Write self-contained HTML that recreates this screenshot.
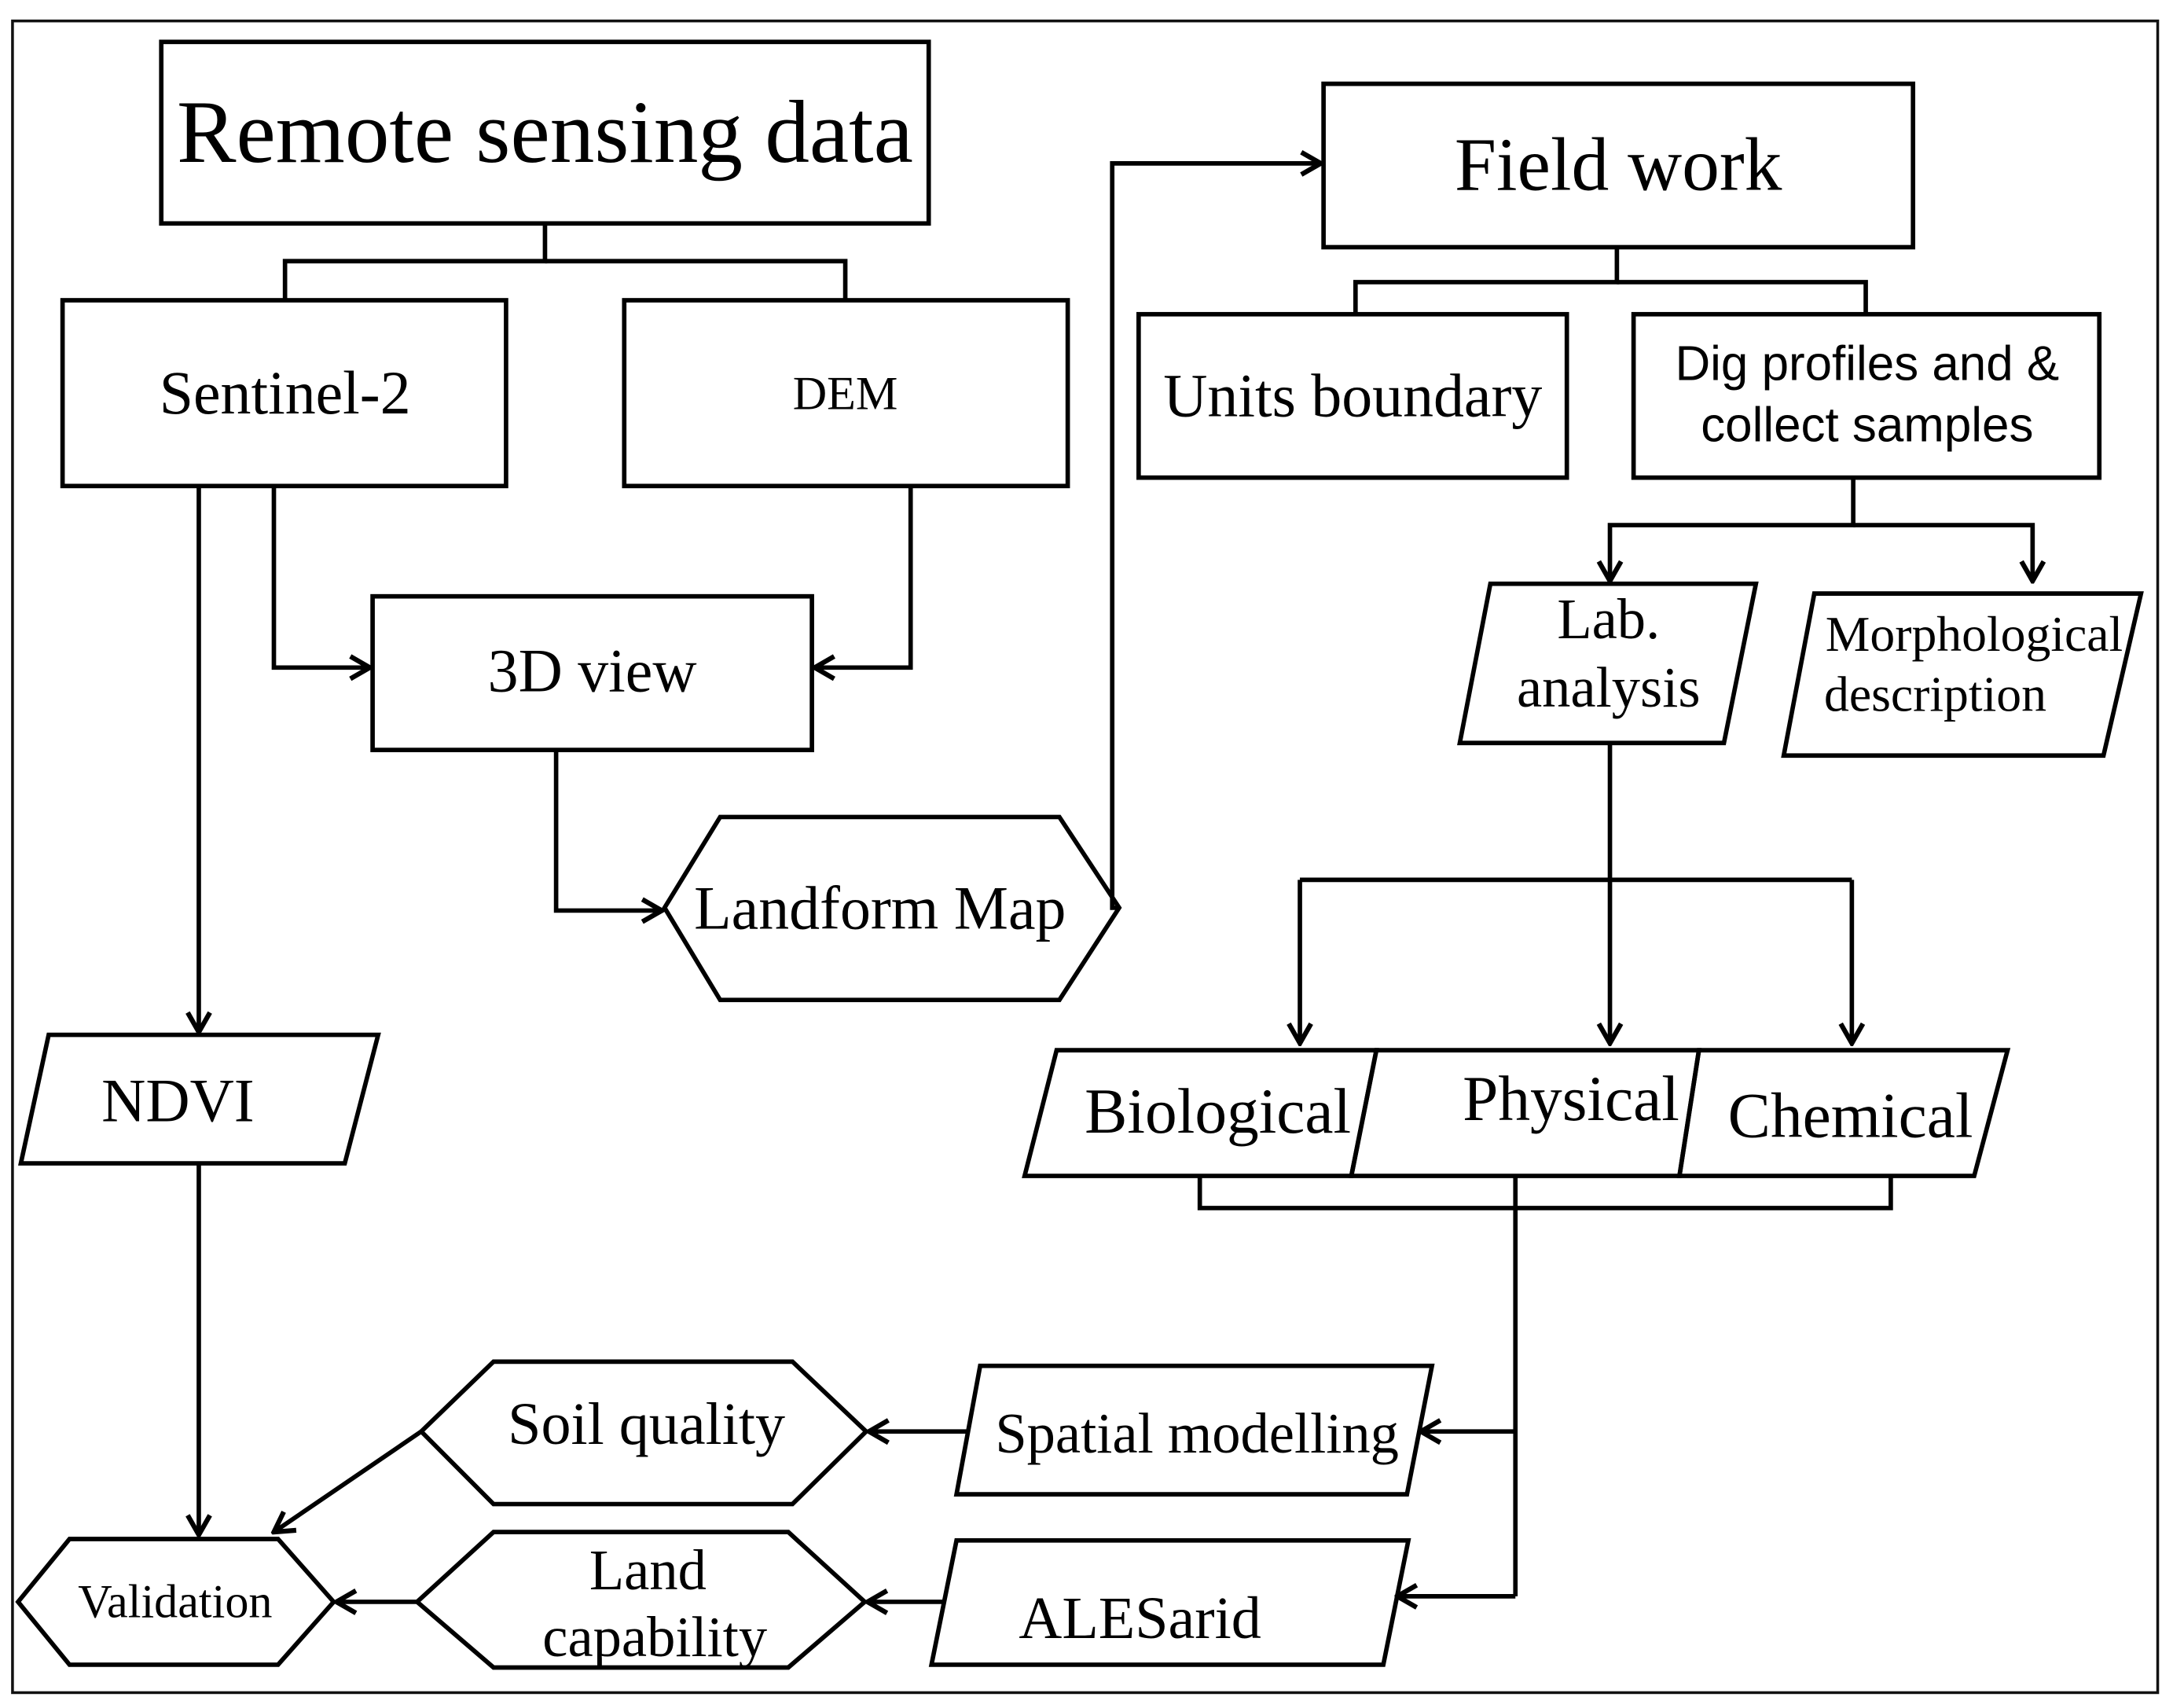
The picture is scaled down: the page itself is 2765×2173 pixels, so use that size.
<!DOCTYPE html>
<html><head><meta charset="utf-8"><style>
html,body{margin:0;padding:0;background:#fff;}
svg{display:block;}
text{font-family:"Liberation Serif",serif;fill:#000;}
.s{font-family:"Liberation Sans",sans-serif;}
</style></head><body>
<svg width="2765" height="2173" viewBox="0 0 1563 1223" preserveAspectRatio="none" xmlns="http://www.w3.org/2000/svg">
<defs>
<marker id="b" viewBox="0 0 20 20" refX="18" refY="10" markerWidth="20" markerHeight="20" orient="auto" markerUnits="userSpaceOnUse">
<polyline points="4,2 18,10 4,18" fill="none" stroke="#000" stroke-width="3.5"/>
</marker>
</defs>
<rect x="9" y="15" width="1543" height="1197" fill="none" stroke="#111" stroke-width="2"/>
<g fill="none" stroke="#000" stroke-width="3.2">
<rect x="116" y="30" width="552" height="130"/>
<polyline points="392,160 392,187 205,187 205,215"/>
<polyline points="392,187 608,187 608,215"/>
<rect x="45" y="215" width="319" height="133"/>
<rect x="449" y="215" width="319" height="133"/>
<rect x="268" y="427" width="316" height="110"/>
<polyline points="197,348 197,478 266,478" marker-end="url(#b)"/>
<polyline points="655,348 655,478 586,478" marker-end="url(#b)"/>
<polyline points="143,348 143,739" marker-end="url(#b)"/>
<polygon points="35,741 272,741 248,833 15,833"/>
<polyline points="400,537 400,652 476,652" marker-end="url(#b)"/>
<polygon points="478,650 518,585 762,585 805,650 762,716 518,716"/>
<polyline points="805,650 800,650 800,117 950,117" marker-end="url(#b)"/>
<rect x="952" y="60" width="424" height="117"/>
<polyline points="1163,177 1163,202 975,202 975,225"/>
<polyline points="1163,202 1342,202 1342,225"/>
<rect x="819" y="225" width="308" height="117"/>
<rect x="1175" y="225" width="335" height="117"/>
<polyline points="1333,342 1333,376 1158,376 1158,416" marker-end="url(#b)"/>
<polyline points="1333,376 1462,376 1462,416" marker-end="url(#b)"/>
<polygon points="1072,418 1263,418 1240,532 1050,532"/>
<polygon points="1305,425 1540,425 1513,541 1283,541"/>
<polyline points="1158,532 1158,747" marker-end="url(#b)"/>
<polyline points="935,630 1332,630"/>
<polyline points="935,630 935,747" marker-end="url(#b)"/>
<polyline points="1332,630 1332,747" marker-end="url(#b)"/>
<polygon points="760,752 990,752 972,842 737,842"/>
<polygon points="990,752 1222,752 1208,842 972,842"/>
<polygon points="1222,752 1444,752 1420,842 1208,842"/>
<polyline points="863,842 863,865 1360,865 1360,842"/>
<polyline points="1090,842 1090,1143"/>
<polyline points="1090,1025 1022,1025" marker-end="url(#b)"/>
<polyline points="1090,1143 1005,1143" marker-end="url(#b)"/>
<polygon points="705,978 1030,978 1012,1070 688,1070"/>
<polygon points="688,1103 1013,1103 995,1192 670,1192"/>
<polygon points="303,1025 355,975 570,975 623,1025 570,1077 355,1077"/>
<polyline points="695,1025 625,1025" marker-end="url(#b)"/>
<polygon points="300,1147 355,1097 567,1097 622,1147 567,1194 355,1194"/>
<polyline points="678,1147 624,1147" marker-end="url(#b)"/>
<polygon points="13,1147 50,1102 200,1102 240,1147 200,1192 50,1192"/>
<polyline points="300,1147 242,1147" marker-end="url(#b)"/>
<polyline points="143,833 143,1099" marker-end="url(#b)"/>
<polyline points="303,1025 197,1097" marker-end="url(#b)"/>
</g>
<text x="392" y="116" font-size="64" text-anchor="middle">Remote sensing data</text>
<text x="205" y="296" font-size="44" text-anchor="middle">Sentinel-2</text>
<text x="608" y="293" font-size="34" text-anchor="middle">DEM</text>
<text x="426" y="495" font-size="44" text-anchor="middle">3D view</text>
<text x="633" y="665" font-size="44" text-anchor="middle">Landform Map</text>
<text x="1164" y="136" font-size="54" text-anchor="middle">Field work</text>
<text x="973" y="298" font-size="44" text-anchor="middle">Units boundary</text>
<text class="s" x="1343" y="272" font-size="35" text-anchor="middle">Dig profiles and &amp;</text>
<text class="s" x="1343" y="316" font-size="35" text-anchor="middle">collect samples</text>
<text x="1157" y="457" font-size="41" text-anchor="middle">Lab.</text>
<text x="1157" y="506" font-size="41" text-anchor="middle">analysis</text>
<text x="1420" y="466" font-size="36" text-anchor="middle">Morphological</text>
<text x="1392" y="509" font-size="36" text-anchor="middle">description</text>
<text x="128" y="803" font-size="44" text-anchor="middle">NDVI</text>
<text x="876" y="811" font-size="46" text-anchor="middle">Biological</text>
<text x="1130" y="802" font-size="46" text-anchor="middle">Physical</text>
<text x="1331" y="814" font-size="46" text-anchor="middle">Chemical</text>
<text x="465" y="1034" font-size="43" text-anchor="middle">Soil quality</text>
<text x="861" y="1040" font-size="41" text-anchor="middle">Spatial modelling</text>
<text x="466" y="1138" font-size="41" text-anchor="middle">Land</text>
<text x="471" y="1186" font-size="41" text-anchor="middle">capability</text>
<text x="820" y="1173" font-size="43" text-anchor="middle">ALESarid</text>
<text x="126" y="1158" font-size="34" text-anchor="middle">Validation</text>
</svg>
</body></html>
